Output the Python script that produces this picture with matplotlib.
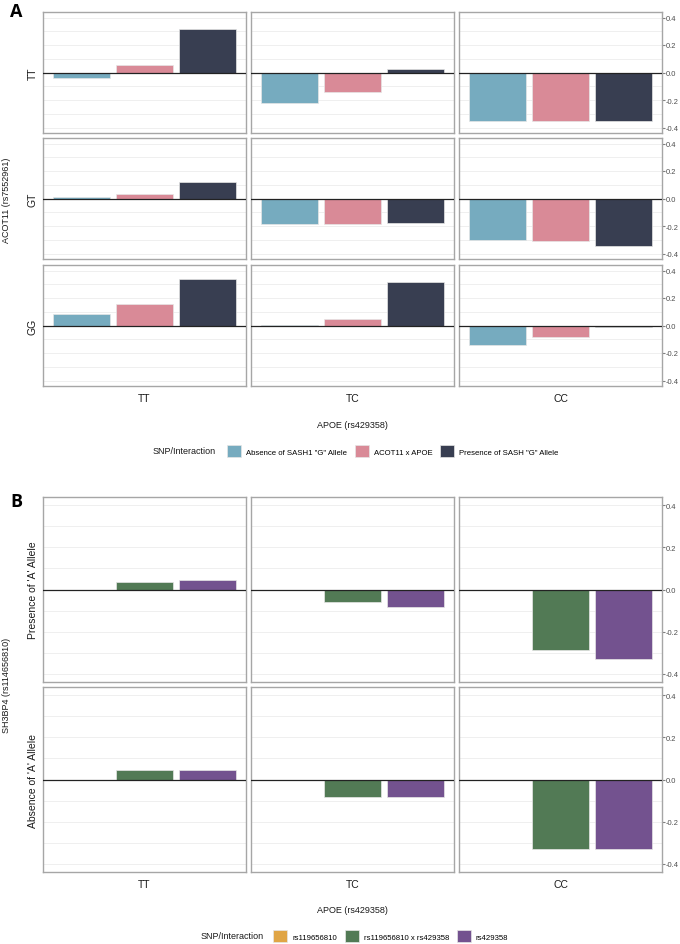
import matplotlib.pyplot as plt
from matplotlib.patches import Patch
import numpy as np

plt.rcParams['font.family'] = ['Liberation Sans', 'DejaVu Sans']

W, H = 680, 945

apoe = ['TT', 'TC', 'CC']

# panel A : ACOT11 rows x APOE columns
acot11_rows = ['TT', 'GT', 'GG']
groups_a = ['Absence of SASH1 "G" Allele', 'ACOT11 x APOE', 'Presence of SASH "G" Allele']
colors_a = ['#76abbf', '#d98a97', '#383e51']
absence_sash1 = [[-0.04, -0.225, -0.35],
                 [0.012, -0.187, -0.30],
                 [0.087, 0.003, -0.145]]
acot11_x_apoe = [[0.056, -0.14, -0.35],
                 [0.034, -0.187, -0.31],
                 [0.16, 0.05, -0.082]]
presence_sash = [[0.32, 0.024, -0.35],
                 [0.12, -0.18, -0.345],
                 [0.34, 0.32, -0.012]]

# panel B : SH3BP4 rows x APOE columns
sh3bp4_rows = ["Presence of 'A' Allele", "Absence of 'A' Allele"]
groups_b = ['rs119656810', 'rs119656810 x rs429358', 'rs429358']
colors_b = ['#e0a545', '#527a55', '#73528f']
rs119656810 = [[0.0, 0.0, 0.0],
               [0.0, 0.0, 0.0]]
rs119656810_x_rs429358 = [[0.035, -0.059, -0.286],
                          [0.043, -0.081, -0.332]]
rs429358 = [[0.045, -0.081, -0.332],
            [0.043, -0.081, -0.331]]

col_x = [(43, 246), (251, 454), (459, 662)]


def rect(x0, y0, x1, y1):
    return [x0 / W, 1 - y1 / H, (x1 - x0) / W, (y1 - y0) / H]


def draw_grid(fig, row_y, row_labels, series, colors, ytitle):
    axes = []
    for r, (y0, y1) in enumerate(row_y):
        for c, (x0, x1) in enumerate(col_x):
            ax = fig.add_axes(rect(x0, y0, x1, y1))
            vals = [s[r][c] for s in series]
            ax.bar([1, 2, 3], vals, width=0.9, color=colors,
                   edgecolor='#e6e6e6', linewidth=0.5, zorder=2)
            ax.axhline(0, color='#222222', lw=0.9, zorder=3)
            ax.set_xlim(0.4, 3.6)
            ax.set_ylim(-0.44, 0.44)
            ax.set_yticks([-0.4, -0.2, 0.0, 0.2, 0.4])
            ax.set_yticks(np.arange(-0.3, 0.31, 0.2), minor=True)
            ax.grid(True, axis='y', which='both', color='#ececec', lw=0.6, zorder=0)
            for s in ax.spines.values():
                s.set_color('#a6a6a6')
                s.set_linewidth(1.0)
            ax.tick_params(axis='y', which='minor', length=0)
            if c == 2:
                ax.yaxis.tick_right()
                ax.tick_params(axis='y', which='major', length=2, color='#808080',
                               labelsize=5.4, labelcolor='#4d4d4d', pad=1)
                ax.set_yticklabels(['-0.4', '-0.2', '0.0', '0.2', '0.4'])
            else:
                ax.tick_params(axis='y', which='major', length=0, labelleft=False,
                               labelright=False)
            if r == len(row_y) - 1:
                ax.set_xticks([2])
                ax.set_xticklabels([apoe[c]], fontsize=7.5, color='#1a1a1a')
                ax.tick_params(axis='x', length=0, pad=5)
            else:
                ax.set_xticks([])
            if c == 0:
                ax.text(-0.05, 0.5, row_labels[r], transform=ax.transAxes, rotation=90,
                        ha='center', va='center', fontsize=7.5, color='#1a1a1a')
            axes.append(ax)
    yc = (row_y[0][0] + row_y[-1][1]) / 2
    fig.text(7 / W, 1 - yc / H, ytitle, rotation=90, ha='center', va='center',
             fontsize=6.5, color='#1a1a1a')
    return axes


def draw_legend(fig, y, title_x, key_x, labels, colors, colspace):
    fig.text(title_x / W, 1 - y / H, 'SNP/Interaction', ha='left', va='center',
             fontsize=6.5, color='#1a1a1a')
    handles = [Patch(facecolor=col, edgecolor='#e6e6e6', linewidth=0.5) for col in colors]
    fig.legend(handles, labels, loc='center left', bbox_to_anchor=(key_x / W, 1 - y / H),
               ncol=3, frameon=False, fontsize=5.6, handlelength=1.8, handleheight=1.8,
               handletextpad=0.65, columnspacing=colspace, borderpad=0, borderaxespad=0)


fig = plt.figure(figsize=(W / 100, H / 100), dpi=100)

# panel A
draw_grid(fig, [(13, 134), (139, 260), (266, 387)], acot11_rows,
          [absence_sash1, acot11_x_apoe, presence_sash], colors_a, 'ACOT11 (rs7552961)')
fig.text(352 / W, 1 - 425 / H, 'APOE (rs429358)', ha='center', va='center',
         fontsize=6.5, color='#1a1a1a')
draw_legend(fig, 452, 153, 227, groups_a, colors_a, 1.0)
fig.text(10 / W, 1 - 12 / H, 'A', ha='left', va='center', fontsize=13,
         fontweight='bold', family='Open Sans')

# panel B
draw_grid(fig, [(498, 683), (688, 873)], sh3bp4_rows,
          [rs119656810, rs119656810_x_rs429358, rs429358], colors_b, 'SH3BP4 (rs114656810)')
fig.text(352 / W, 1 - 911 / H, 'APOE (rs429358)', ha='center', va='center',
         fontsize=6.5, color='#1a1a1a')
draw_legend(fig, 937, 201, 273, groups_b, colors_b, 1.0)
fig.text(10 / W, 1 - 502 / H, 'B', ha='left', va='center', fontsize=13,
         fontweight='bold', family='Open Sans')

fig.savefig('out.png', dpi=100)
